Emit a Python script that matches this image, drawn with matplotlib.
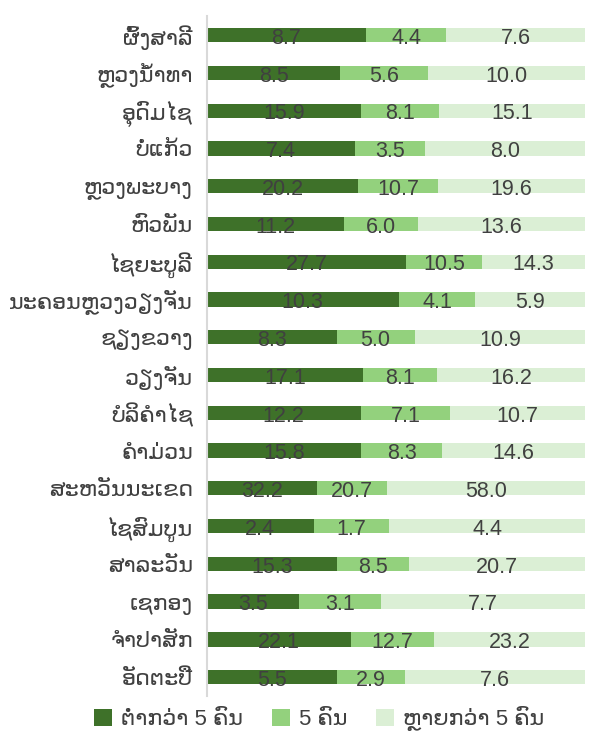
import numpy as np
import matplotlib
matplotlib.use("Agg")
import matplotlib.pyplot as plt

plt.rcParams['font.family'] = ['Liberation Sans', 'DejaVu Sans']

provinces = ["ຜົ້ງສາລີ", "ຫຼວງນໍ້າທາ", "ອຸດົມໄຊ", "ບໍ່ແກ້ວ", "ຫຼວງພະບາງ", "ຫົວພັນ",
             "ໄຊຍະບູລີ", "ນະຄອນຫຼວງວຽງຈັນ", "ຊຽງຂວາງ", "ວຽງຈັນ", "ບໍລິຄໍາໄຊ", "ຄໍາມ່ວນ",
             "ສະຫວັນນະເຂດ", "ໄຊສົມບູນ", "ສາລະວັນ", "ເຊກອງ", "ຈໍາປາສັກ", "ອັດຕະປື"]
below5 = [8.7, 8.5, 15.9, 7.4, 20.2, 11.2, 27.7, 10.3, 8.3, 17.1, 12.2, 15.8, 32.2, 2.4, 15.3, 3.5, 22.1, 5.5]
equal5 = [4.4, 5.6, 8.1, 3.5, 10.7, 6.0, 10.5, 4.1, 5.0, 8.1, 7.1, 8.3, 20.7, 1.7, 8.5, 3.1, 12.7, 2.9]
above5 = [7.6, 10.0, 15.1, 8.0, 19.6, 13.6, 14.3, 5.9, 10.9, 16.2, 10.7, 14.6, 58.0, 4.4, 20.7, 7.7, 23.2, 7.6]
series_names = ["ຕໍ່າກວ່າ 5 ຄົນ", "5 ຄົນ", "ຫຼາຍກວ່າ 5 ຄົນ"]
colors = ["#3e7129", "#93d17d", "#dbefd5"]

data = np.array([below5, equal5, above5])
totals = data.sum(axis=0)
shares = data / totals

fig = plt.figure(figsize=(5.91, 7.40), dpi=100)
ax = fig.add_axes([0.350, 0.0595, 0.640, 0.9185])

y = np.arange(len(provinces))
left = np.zeros(len(provinces))
for i in range(3):
    ax.barh(y, shares[i], left=left, height=0.38, color=colors[i], label=series_names[i])
    for j in range(len(provinces)):
        ax.text(left[j] + shares[i][j] / 2, y[j] + 0.02, f"{data[i][j]:.1f}",
                ha='center', va='center_baseline', fontsize=15.5, color='#404040')
    left += shares[i]

ax.set_xlim(0, 1)
ax.set_ylim(len(provinces) - 0.5, -0.5)
ax.set_yticks(y)
ax.set_yticklabels(provinces, fontsize=16, color='#404040')
ax.tick_params(axis='y', length=0, pad=10)
ax.set_xticks([])
for s in ['top', 'right', 'bottom']:
    ax.spines[s].set_visible(False)
ax.spines['left'].set_color('#d9d9d9')
ax.spines['left'].set_linewidth(1.5)

fig.legend(loc='lower center', bbox_to_anchor=(0.54, -0.015), ncol=3, frameon=False,
           fontsize=16, handlelength=0.8, handleheight=0.8, handletextpad=0.4,
           columnspacing=1.3, labelcolor='#404040')

fig.savefig("out.png", dpi=100)
